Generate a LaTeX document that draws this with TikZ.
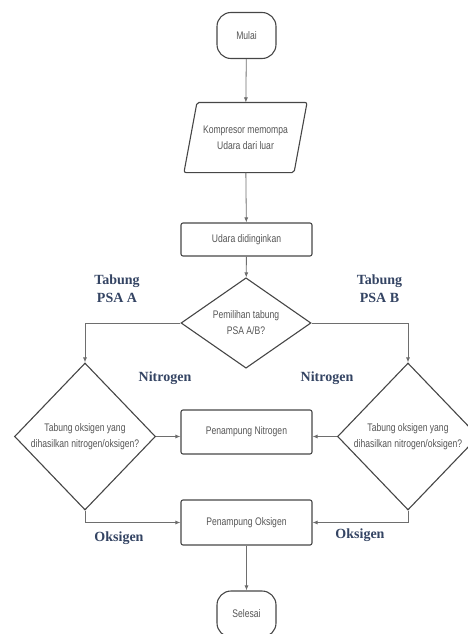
\documentclass[tikz,border=0pt]{standalone}
\usepackage{fontspec}
\setmainfont{Liberation Serif}
\setsansfont{Liberation Sans}[FakeStretch=0.78]
\usetikzlibrary{shapes.geometric,arrows.meta}

\begin{document}
\begin{tikzpicture}[x=1pt,y=-1pt,
    shapeline/.style={draw=boxgray, line width=1.1pt, text=textgray,
        font=\sffamily\fontsize{11}{16}\selectfont, align=center, inner sep=0pt},
    terminal/.style={shapeline, rounded corners=14pt, minimum width=59pt, minimum height=46pt},
    process/.style={shapeline, rounded corners=2pt, minimum width=131pt},
    io/.style={shapeline, draw=none, minimum width=109pt, minimum height=69pt},
    decision/.style={shapeline, diamond, aspect=1},
    conn/.style={draw=linegray, line width=0.8pt, -{Latex[length=5pt,width=4pt]}},
    branchtag/.style={text=tagblue, align=center, font=\bfseries\fontsize{14}{18}\selectfont}]
      % Color definitions
      \definecolor{boxgray}{RGB}{70,70,70}
      \definecolor{linegray}{RGB}{110,110,110}
      \definecolor{textgray}{RGB}{85,85,85}
      \definecolor{tagblue}{RGB}{52,68,99}

      \useasboundingbox (0,0) rectangle (468,634);

      % Main column
      \node[terminal] (mulai) at (246.5,35.5) {Mulai};
      \node[io] (kompresor) at (245.5,137.5) {Kompresor memompa\\Udara dari luar};
      \draw[shapeline, rounded corners=2pt]
          ([xshift=6.5pt]kompresor.north west) --
          ([xshift=6.5pt]kompresor.north east) --
          ([xshift=-6.5pt]kompresor.south east) --
          ([xshift=-6.5pt]kompresor.south west) -- cycle;
      \node[process, minimum height=33pt] (dingin) at (246.5,239.5) {Udara didinginkan};
      \node[decision, minimum width=130pt, minimum height=80pt] (pilih) at (246,323)
          {Pemilihan tabung\\PSA A/B?};

      % Two PSA columns
      \node[decision, minimum width=141pt, minimum height=147pt] (psaA) at (85,436.5)
          {Tabung oksigen yang\\dihasilkan nitrogen/oksigen?};
      \node[decision, minimum width=141pt, minimum height=147pt] (psaB) at (408,436.5)
          {Tabung oksigen yang\\dihasilkan nitrogen/oksigen?};
      \node[process, minimum height=44pt] (nitro) at (246.5,432) {Penampung Nitrogen};
      \node[process, minimum height=45pt] (oksi) at (246.5,522.5) {Penampung Oksigen};
      \node[terminal] (selesai) at (246.5,614) {Selesai};

      % Connectors
      \draw[conn] (mulai) -- (kompresor);
      \draw[conn] (kompresor) -- (dingin);
      \draw[conn] (dingin) -- (pilih);
      \draw[conn] (pilih.west) -| (psaA.north);
      \draw[conn] (pilih.east) -| (psaB.north);
      \draw[conn] (psaA.east) -- (psaA.east -| nitro.west);
      \draw[conn] (psaB.west) -- (psaB.west -| nitro.east);
      \draw[conn] (psaA.south) |- (oksi.west);
      \draw[conn] (psaB.south) |- (oksi.east);
      \draw[conn] (oksi) -- (selesai);

      % Branch labels
      \node[branchtag] (tagA) at (117,289) {Tabung\\PSA A};
      \node[branchtag] (tagB) at (379.5,289) {Tabung\\PSA B};
      \node[branchtag] (nitroA) at (165,378) {Nitrogen};
      \node[branchtag] (nitroB) at (327,378) {Nitrogen};
      \node[branchtag] (oksiA) at (119,538) {Oksigen};
      \node[branchtag] (oksiB) at (360,535) {Oksigen};
\end{tikzpicture}
\end{document}
